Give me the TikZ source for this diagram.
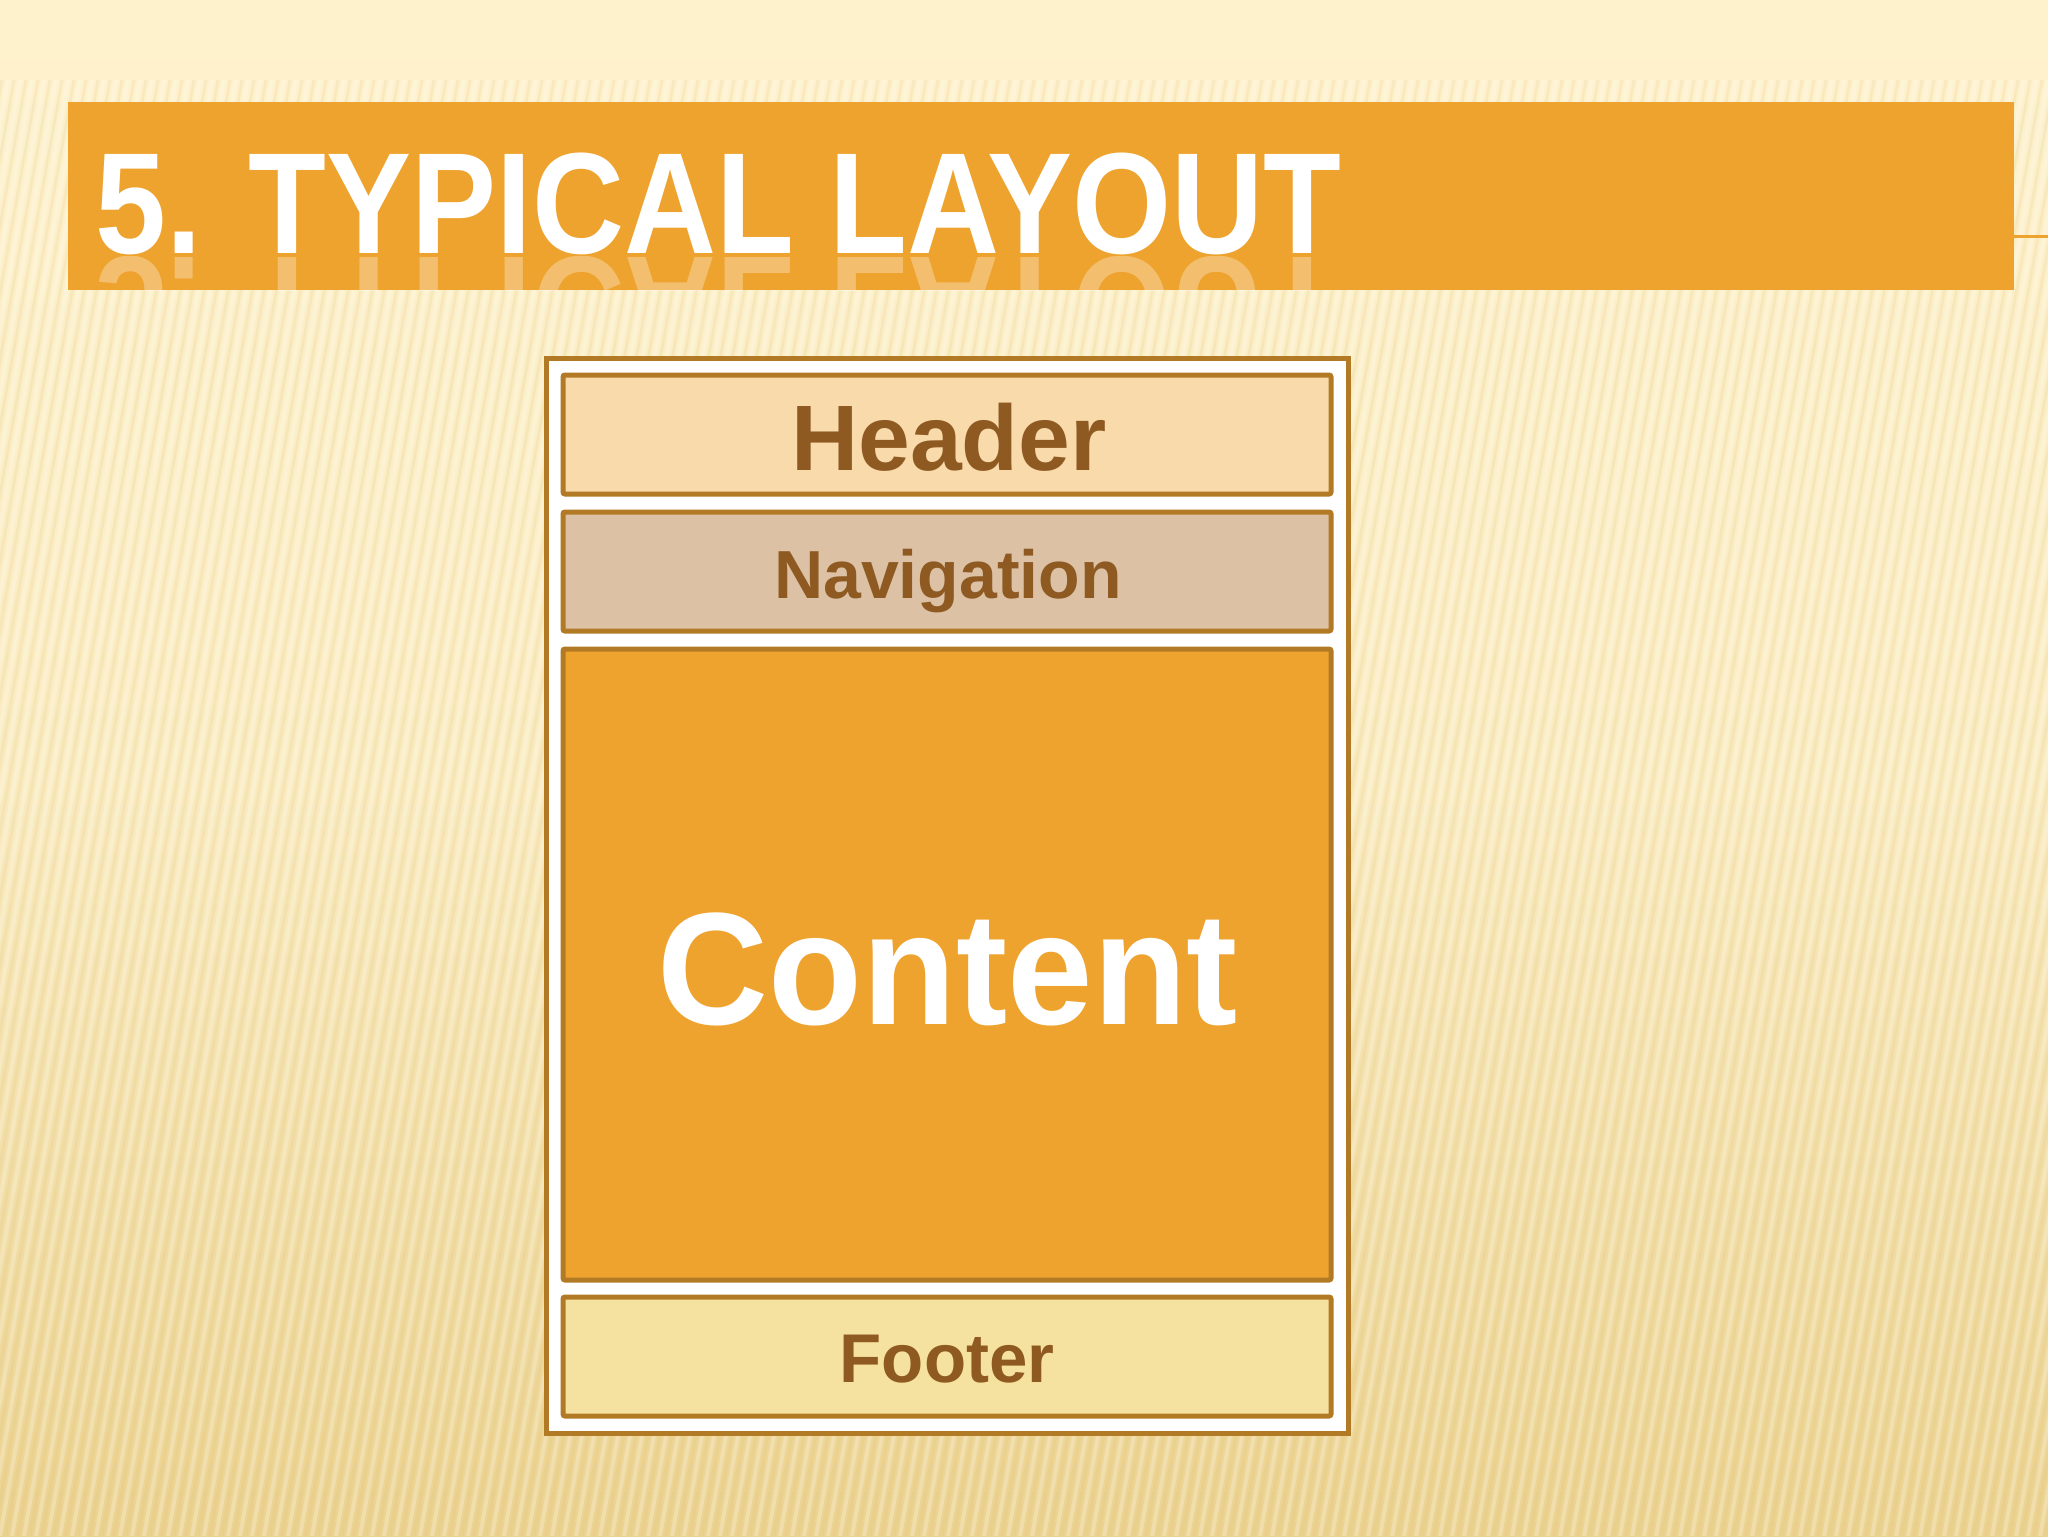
\documentclass[tikz,border=0pt]{standalone}
\usepackage{fontspec}
\setmainfont{Liberation Sans}
\definecolor{bgtop}{HTML}{FEF2CD}
\definecolor{bgbot}{HTML}{EBD28F}
\definecolor{barorange}{HTML}{EEA32E}
\definecolor{rim}{HTML}{B27A25}
\definecolor{txtbrown}{HTML}{8E5A22}
\definecolor{headfill}{HTML}{F8DAAB}
\definecolor{navfill}{HTML}{DCC1A5}
\definecolor{contfill}{HTML}{EFA32F}
\definecolor{footfill}{HTML}{F6E2A0}
\definecolor{stripe}{HTML}{D8BD78}
\tikzset{
  panel/.style={draw=rim, line width=2.5pt, rounded corners=1pt, minimum width=384pt, minimum height=59.5pt, inner sep=0pt},
  lbl/.style={anchor=base, inner sep=0pt, font=\bfseries\fontsize{34.5}{34.5}\selectfont, text=txtbrown},
  titletext/.style={anchor=base west, inner sep=0pt, text=white, font=\bfseries\fontsize{72}{72}\selectfont, xscale=0.885, transform shape},
}
\begin{document}
\begin{tikzpicture}[x=0.5pt,y=-0.5pt]
\useasboundingbox (0,0) rectangle (2048,1536);
% background
\shade[top color=bgtop, bottom color=bgbot, middle color=bgtop!80!bgbot] (0,0) rectangle (2048,1536);
\begin{scope}
\clip (0,80) rectangle (2048,1536);
\foreach \i in {-30,...,190} {
  \draw[white, opacity=0.25, line width=2pt] (\i*12,1536) -- (\i*12+260,80);
  \draw[stripe, opacity=0.14, line width=1.5pt] (\i*12+6,1536) -- (\i*12+266,80);
}
\end{scope}
% title bar
\fill[barorange] (68,102) rectangle (2014,290);
\draw[barorange, line width=1.5pt] (2014,236) -- (2048,236);
\node[titletext] (title) at (95,253) {5. TYPICAL LAYOUT};
\begin{scope}
\clip (68,256) rectangle (2014,290);
\node[titletext, text opacity=0.3, yscale=-1] (reflection) at (95,257) {5. TYPICAL LAYOUT};
\end{scope}
% layout frame
\node[draw=rim, fill=white, line width=2.5pt, minimum width=401pt, minimum height=537.5pt, inner sep=0pt] (frame) at (947,895.5) {};
\node[panel, fill=headfill] (header) at (947,434.5) {};
\node[panel, fill=navfill] (nav) at (947,571.5) {};
\node[panel, fill=contfill, minimum height=315.5pt] (content) at (947,964.5) {};
\node[panel, fill=footfill] (footer) at (947,1356.5) {};
% labels
\node[lbl, font=\bfseries\fontsize{46.5}{46.5}\selectfont] (headert) at (949,470) {Header};
\node[lbl, font=\bfseries\fontsize{34}{34}\selectfont] (navt) at (948,598) {Navigation};
\node[lbl, text=white, font=\bfseries\fontsize{80}{80}\selectfont, xscale=0.96, transform shape] (contentt) at (948,1024) {Content};
\node[lbl] (footert) at (947,1382) {Footer};
\end{tikzpicture}
\end{document}
